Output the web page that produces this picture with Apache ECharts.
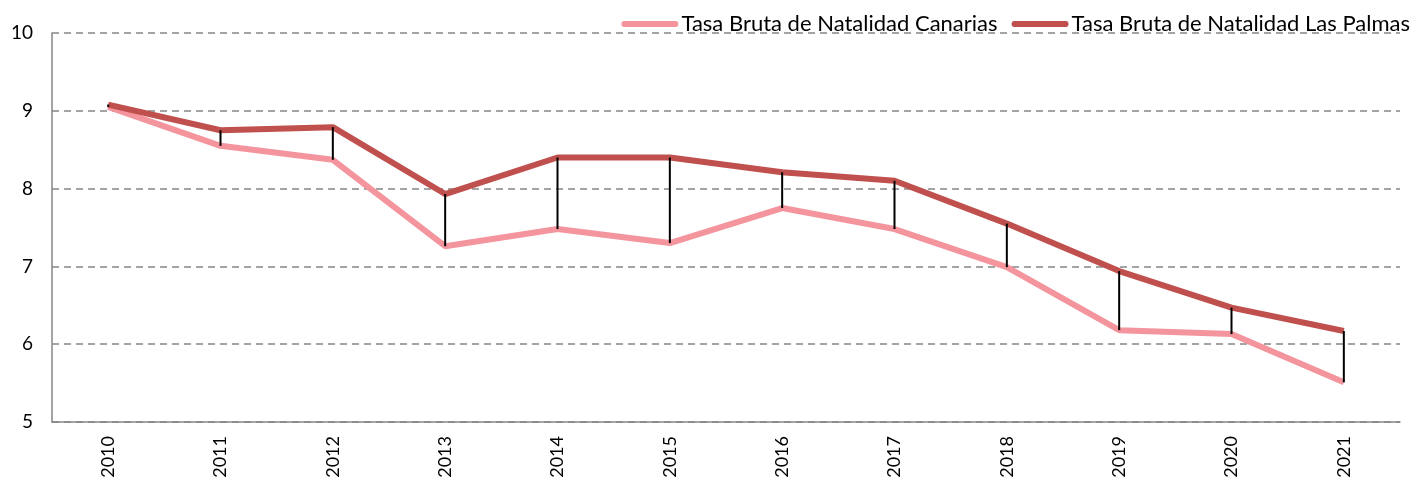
<!DOCTYPE html>
<html><head><meta charset="utf-8">
<script src="https://cdn.jsdelivr.net/npm/echarts@6/dist/echarts.min.js"></script>
<style>html,body{margin:0;padding:0;background:#fff}#c{width:1418px;height:481px}</style>
</head><body><div id="c"></div>
<script>
const years = ['2010','2011','2012','2013','2014','2015','2016','2017','2018','2019','2020','2021'];
const canarias = [9.05, 8.55, 8.37, 7.26, 7.48, 7.30, 7.75, 7.48, 6.99, 6.18, 6.13, 5.51];
const lasPalmas = [9.08, 8.75, 8.79, 7.93, 8.40, 8.40, 8.21, 8.10, 7.55, 6.94, 6.47, 6.17];
const yTicks = [5, 6, 7, 8, 9, 10];

const FONT = 'Lato';
const hiLo = years.map((y, i) => [i, Math.min(canarias[i], lasPalmas[i]), Math.max(canarias[i], lasPalmas[i])]);
const pill = 'path://M3,0 L54,0 A3,3 0 0 1 54,6 L3,6 A3,3 0 0 1 3,0 Z';

const chart = echarts.init(document.getElementById('c'));
chart.setOption({
  animation: false,
  legend: {
    top: 8, right: 3,
    itemWidth: 57, itemHeight: 6, itemGap: 14,
    textStyle: {fontFamily: FONT, fontSize: 22, color: '#000', padding: [0,0,0,-2]},
    data: [
      {name: 'Tasa Bruta de Natalidad Canarias', icon: pill},
      {name: 'Tasa Bruta de Natalidad Las Palmas', icon: pill}
    ]
  },
  grid: {left: 52, right: 18, top: 33, bottom: 59},
  xAxis: {
    type: 'category', data: years, boundaryGap: true,
    axisLine: {lineStyle: {color: '#868686', width: 1.5}},
    axisTick: {show: false},
    axisLabel: {rotate: 90, fontFamily: FONT, fontSize: 18, color: '#000', margin: 14}
  },
  yAxis: {
    type: 'value', min: yTicks[0], max: yTicks[yTicks.length-1], interval: 1,
    axisLine: {show: true, lineStyle: {color: '#868686', width: 1.5}},
    axisTick: {show: false},
    axisLabel: {fontFamily: FONT, fontSize: 19, color: '#000', margin: 19},
    splitLine: {lineStyle: {color: '#878787', width: 1.5, type: [7, 5]}}
  },
  series: [
    {
      name: 'Tasa Bruta de Natalidad Canarias', type: 'line', data: canarias,
      symbol: 'none', lineStyle: {color: '#F4949C', width: 6}, itemStyle: {color: '#F4949C'}, z: 3
    },
    {
      name: 'Tasa Bruta de Natalidad Las Palmas', type: 'line', data: lasPalmas,
      symbol: 'none', lineStyle: {color: '#C0504D', width: 6}, itemStyle: {color: '#C0504D'}, z: 4
    },
    {
      type: 'custom', data: hiLo, z: 5, silent: true,
      renderItem: function (params, api) {
        const p1 = api.coord([api.value(0), api.value(1)]);
        const p2 = api.coord([api.value(0), api.value(2)]);
        return {type: 'line', shape: {x1: p1[0], y1: p1[1], x2: p2[0], y2: p2[1]},
                style: {stroke: '#000', lineWidth: 2}};
      }
    }
  ]
});
</script></body></html>
